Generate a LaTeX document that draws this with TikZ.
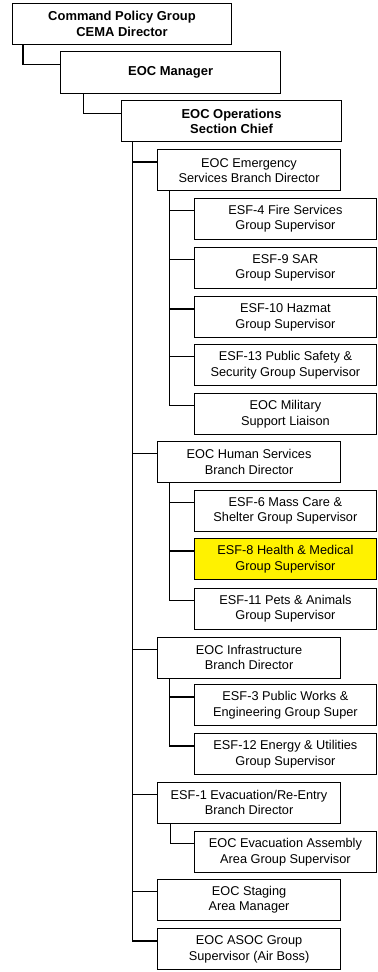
\documentclass[tikz,border=0pt]{standalone}
\usepackage{fontspec}
\setmainfont{Liberation Sans}
\begin{document}
\begin{tikzpicture}[x=1bp,y=-1bp,
  box/.style={draw=black, line width=1.1bp, fill=white, anchor=north west, inner sep=1bp,
    align=center, font=\fontsize{12.8}{15.5}\selectfont, minimum height=41bp},
  topbox/.style={box, font=\bfseries\fontsize{13}{15.5}\selectfont, minimum width=219.5bp},
  brbox/.style={box, minimum width=182.4bp},
  subbox/.style={box, minimum width=182.3bp},
  conn/.style={line width=1.2bp, draw=black}]
\useasboundingbox (0,0) rectangle (377,972);
% top levels
\node[topbox, minimum height=40.4bp] (cpg) at (11.7,3.3) {Command Policy Group\\CEMA Director};
\node[topbox, minimum height=41.7bp] (mgr) at (60.3,51.3) {EOC Manager};
\node[topbox] (ops) at (121.3,100.3) {EOC Operations\\Section Chief};
% branches
\node[brbox] (esb) at (157.3,149.3) {EOC Emergency\\Services Branch Director};
\node[brbox] (hsb) at (157.3,441) {EOC Human Services\\Branch Director};
\node[brbox] (inf) at (157.3,636.5) {EOC Infrastructure\\Branch Director};
\node[brbox] (evb) at (157.3,781.5) {ESF-1 Evacuation/Re-Entry\\Branch Director};
\node[brbox] (stg) at (157.3,878.7) {EOC Staging\\Area Manager};
\node[brbox] (aso) at (157.3,928.3) {EOC ASOC Group\\Supervisor (Air Boss)};
% subs
\node[subbox] (e4) at (193.7,197.7) {ESF-4 Fire Services\\Group Supervisor};
\node[subbox] (e9) at (193.7,246.7) {ESF-9 SAR\\Group Supervisor};
\node[subbox] (e10) at (193.7,296.3) {ESF-10 Hazmat\\Group Supervisor};
\node[subbox] (e13) at (193.7,344) {ESF-13 Public Safety \&\\Security Group Supervisor};
\node[subbox] (mil) at (193.7,393) {EOC Military\\Support Liaison};
\node[subbox] (e6) at (193.7,490) {ESF-6 Mass Care \&\\Shelter Group Supervisor};
\node[subbox, fill=yellow] (e8) at (193.7,538.3) {ESF-8 Health \& Medical\\Group Supervisor};
\node[subbox] (e11) at (193.7,587.5) {ESF-11 Pets \& Animals\\Group Supervisor};
\node[subbox] (e3) at (193.7,684.3) {ESF-3 Public Works \&\\Engineering Group Super};
\node[subbox] (e12) at (193.7,733.3) {ESF-12 Energy \& Utilities\\Group Supervisor};
\node[subbox] (eva) at (193.7,831) {EOC Evacuation Assembly\\Area Group Supervisor};
% connectors
\draw[conn] ([xshift=11.3bp]cpg.south west) |- ([yshift=-13bp]mgr.north west);
\draw[conn] ([xshift=23.4bp]mgr.south west) |- ([yshift=-13bp]ops.north west);
\foreach \c in {esb,hsb,inf,evb,stg,aso}
  \draw[conn] ([xshift=11.5bp]ops.south west) |- ([yshift=-12.7bp]\c.north west);
\foreach \c in {e4,e9,e10,e13,mil}
  \draw[conn] ([xshift=12.5bp]esb.south west) |- ([yshift=-12.7bp]\c.north west);
\foreach \c in {e6,e8,e11}
  \draw[conn] ([xshift=12.3bp]hsb.south west) |- ([yshift=-12.7bp]\c.north west);
\foreach \c in {e3,e12}
  \draw[conn] ([xshift=12.3bp]inf.south west) |- ([yshift=-12.7bp]\c.north west);
\draw[conn] ([xshift=13.2bp]evb.south west) |- ([yshift=-12.7bp]eva.north west);
\end{tikzpicture}
\end{document}
